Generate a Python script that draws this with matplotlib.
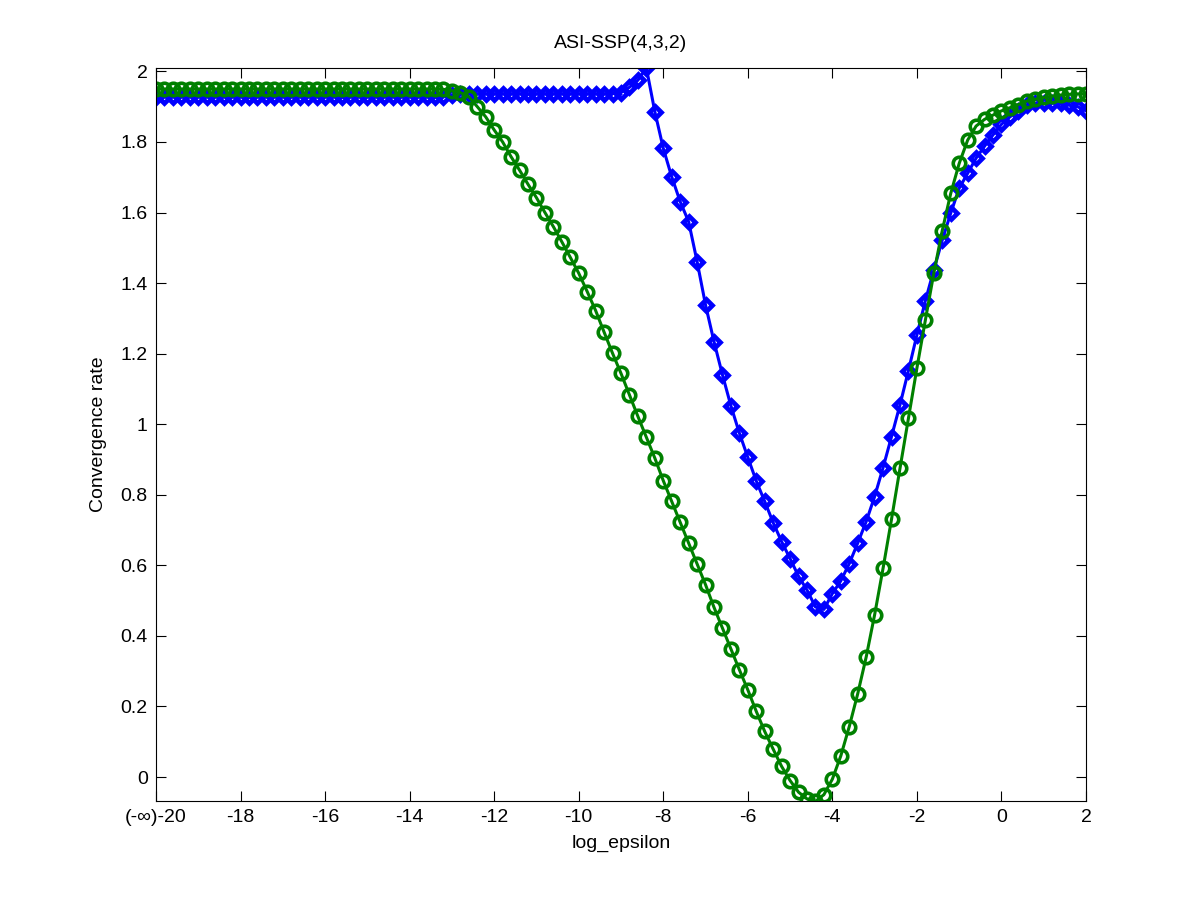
import numpy as np
import matplotlib
matplotlib.use("Agg")
import matplotlib.pyplot as plt

plt.rcParams['font.family'] = ['Liberation Sans', 'DejaVu Sans']

# x grid: log_epsilon from -20 to 2, step 0.2
log_eps = np.round(np.arange(-20.0, 2.0001, 0.2), 1)

rate_blue = ([1.928] * 35 + [1.932] + [1.937] * 19 +
             [1.940, 1.955, 1.975, 2.010, 1.886, 1.782, 1.701, 1.631, 1.574, 1.461,
              1.338, 1.234, 1.140, 1.052, 0.975, 0.906, 0.839, 0.781, 0.721, 0.667,
              0.619, 0.569, 0.530, 0.482, 0.475, 0.520, 0.556, 0.605, 0.663, 0.724,
              0.795, 0.877, 0.965, 1.055, 1.152, 1.253, 1.350, 1.437, 1.522, 1.598,
              1.669, 1.711, 1.754, 1.788, 1.820, 1.850, 1.871, 1.888, 1.904, 1.909,
              1.911, 1.911, 1.909, 1.904, 1.900, 1.888])

rate_green = ([1.950] * 34 +
              [1.949, 1.945, 1.940, 1.928, 1.900, 1.871, 1.834, 1.800, 1.758, 1.720,
               1.680, 1.642, 1.600, 1.560, 1.517, 1.473, 1.428, 1.376, 1.322, 1.261,
               1.201, 1.144, 1.083, 1.022, 0.963, 0.904, 0.840, 0.781, 0.722, 0.663,
               0.604, 0.545, 0.481, 0.422, 0.363, 0.304, 0.247, 0.186, 0.129, 0.079,
               0.030, -0.010, -0.043, -0.062, -0.069, -0.050, -0.006, 0.060, 0.143, 0.236,
               0.340, 0.460, 0.592, 0.731, 0.875, 1.017, 1.159, 1.295, 1.428, 1.549,
               1.654, 1.739, 1.805, 1.845, 1.864, 1.876, 1.888, 1.897, 1.906, 1.916,
               1.921, 1.926, 1.930, 1.933, 1.935, 1.936, 1.936])

xticks = [-20, -18, -16, -14, -12, -10, -8, -6, -4, -2, 0, 2]
xtick_labels = ['(-\u221e)-20', '-18', '-16', '-14', '-12', '-10', '-8', '-6', '-4', '-2', '0', '2']
yticks = [0, 0.2, 0.4, 0.6, 0.8, 1.0, 1.2, 1.4, 1.6, 1.8, 2.0]
ytick_labels = ['0', '0.2', '0.4', '0.6', '0.8', '1', '1.2', '1.4', '1.6', '1.8', '2']

fig = plt.figure(figsize=(12, 9), dpi=100)
ax = fig.add_axes([0.13, 0.11, 0.775, 0.815])

ax.plot(log_eps, rate_blue, color=(0, 0, 1), lw=2.2, marker='D', ms=6.5,
        mew=3.4, mfc='none', mec=(0, 0, 1))
ax.plot(log_eps, rate_green, color=(0, 0.5, 0), lw=2.2, marker='o', ms=9,
        mew=2.6, mfc='none', mec=(0, 0.5, 0))

ax.set_xlim(-20, 2)
ax.set_ylim(-0.068, 2.011)
ax.set_xticks(xticks)
ax.set_xticklabels(xtick_labels)
ax.set_yticks(yticks)
ax.set_yticklabels(ytick_labels)

fs = 14
ax.tick_params(direction='in', top=True, right=True, length=7, width=0.8,
               labelsize=fs, pad=6, colors='black')
for s in ax.spines.values():
    s.set_linewidth(0.8)
    s.set_color('black')

ax.set_title('ASI-SSP(4,3,2)', fontsize=fs, pad=14)
ax.set_xlabel('log_epsilon', fontsize=fs, labelpad=6)
ax.set_ylabel('Convergence rate', fontsize=fs, labelpad=10)

fig.savefig('out.png', dpi=100)
